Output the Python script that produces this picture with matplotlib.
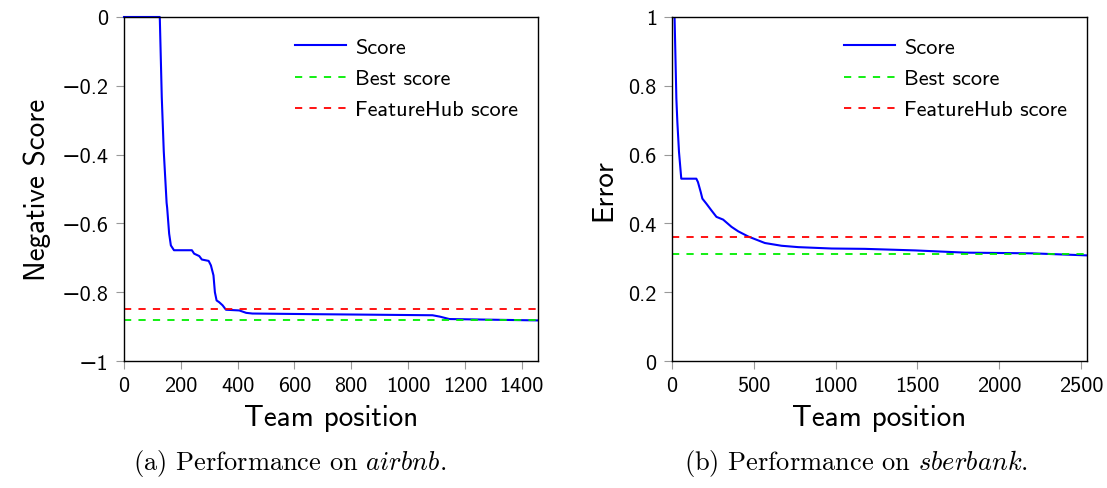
import numpy as np
import matplotlib
matplotlib.use('Agg')
import matplotlib.pyplot as plt

plt.rcParams['font.family'] = ['cmss10', 'DejaVu Sans']
plt.rcParams['mathtext.fontset'] = 'cm'
plt.rcParams['axes.formatter.use_mathtext'] = False

# airbnb: team position vs negative score
airbnb_pos = [0, 126, 133, 140, 150, 152, 159, 165, 176, 239, 247, 265, 274, 298, 306,
              315, 320, 326, 335, 347, 359, 406, 430, 452, 688, 1086, 1112, 1145, 1300, 1457]
airbnb_score = [0, 0, -0.233, -0.39, -0.54, -0.555, -0.63, -0.664, -0.678, -0.678, -0.688,
                -0.695, -0.705, -0.709, -0.722, -0.751, -0.80, -0.824, -0.829, -0.838,
                -0.851, -0.853, -0.86, -0.862, -0.864, -0.867, -0.871, -0.878, -0.880, -0.882]
airbnb_best = -0.88
airbnb_fh = -0.85

# sberbank: team position vs error
sber_pos = [0, 16, 27, 33, 43, 57, 149, 159, 176, 186, 211, 241, 272, 313, 364, 405, 466,
            568, 670, 772, 976, 1180, 1486, 1793, 2201, 2537]
sber_err = [1.3, 1.0, 0.763, 0.695, 0.608, 0.53, 0.53, 0.52, 0.491, 0.472, 0.457, 0.438,
            0.419, 0.411, 0.39, 0.377, 0.362, 0.343, 0.335, 0.331, 0.327, 0.326, 0.3215,
            0.315, 0.313, 0.307]
sber_best = 0.31
sber_fh = 0.36

fig = plt.figure(figsize=(11.07, 4.89), dpi=100)
ax1 = fig.add_axes([0.112, 0.2597, 0.3739, 0.7035])
ax2 = fig.add_axes([0.607, 0.2597, 0.3749, 0.7035])


def style(ax):
    ax.tick_params(direction='out', length=6, color='#999999', labelsize=16, pad=5,
                   top=False, right=False)
    for s in ax.spines.values():
        s.set_linewidth(1.0)


ax1.plot(airbnb_pos, airbnb_score, color='blue', lw=1.5, label='Score', clip_on=False)
ax1.axhline(airbnb_best, color='#00ee00', ls=(0, (4, 4)), lw=1.3, label='Best score')
ax1.axhline(airbnb_fh, color='red', ls=(0, (4, 4)), lw=1.3, label='FeatureHub score')
ax1.set_xlim(0, 1457)
ax1.set_ylim(-1, 0)
ax1.set_xticks(np.arange(0, 1401, 200))
ax1.set_yticks([-1, -0.8, -0.6, -0.4, -0.2, 0])
ax1.set_yticklabels(['\u22121', '\u22120.8', '\u22120.6', '\u22120.4', '\u22120.2', '0'])
ax1.set_xlabel('Team position', fontsize=21, labelpad=6)
ax1.set_ylabel('Negative Score', fontsize=21, labelpad=8)
style(ax1)
ax1.legend(loc='upper right', frameon=False, fontsize=16, handlelength=2.3,
           handletextpad=0.4, labelspacing=0.52, bbox_to_anchor=(1.0, 0.998))

ax2.plot(sber_pos, sber_err, color='blue', lw=1.5, label='Score')
ax2.axhline(sber_best, color='#00ee00', ls=(0, (4, 4)), lw=1.3, label='Best score')
ax2.axhline(sber_fh, color='red', ls=(0, (4, 4)), lw=1.3, label='FeatureHub score')
ax2.set_xlim(0, 2537)
ax2.set_ylim(0, 1)
ax2.set_xticks(np.arange(0, 2501, 500))
ax2.set_yticks([0, 0.2, 0.4, 0.6, 0.8, 1])
ax2.set_yticklabels(['0', '0.2', '0.4', '0.6', '0.8', '1'])
ax2.set_xlabel('Team position', fontsize=21, labelpad=6)
ax2.set_ylabel('Error', fontsize=21, labelpad=8)
style(ax2)
ax2.legend(loc='upper right', frameon=False, fontsize=16, handlelength=2.3,
           handletextpad=0.4, labelspacing=0.52, bbox_to_anchor=(1.0, 0.998))

fig.text(0.262, 0.038, r'(a) Performance on $\mathit{airbnb}$.', family='cmr10',
         fontsize=19, ha='center')
fig.text(0.773, 0.038, r'(b) Performance on $\mathit{sberbank}$.', family='cmr10',
         fontsize=19, ha='center')

fig.savefig('out.png', dpi=100)
